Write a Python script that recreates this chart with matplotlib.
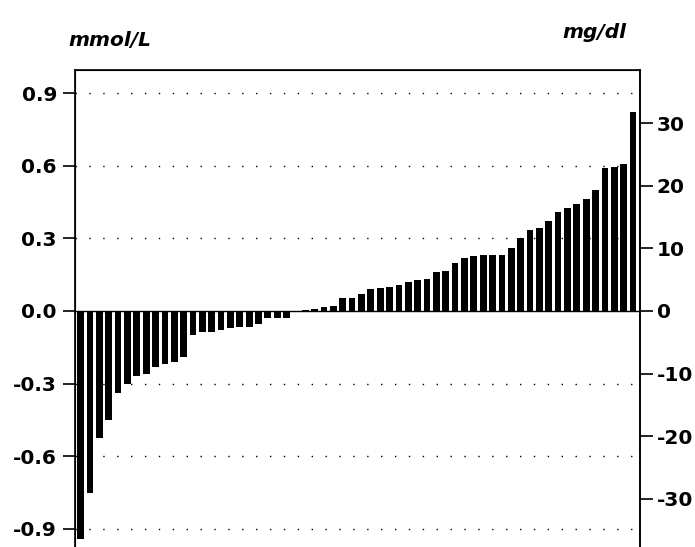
import matplotlib
matplotlib.use("Agg")
import matplotlib.pyplot as plt
import numpy as np

plt.rcParams['font.family'] = ['DejaVu Sans']

# Differences in mmol/L, sorted ascending (60 subjects)
values_mmol = [
    -0.94, -0.75, -0.525, -0.45, -0.34, -0.30, -0.27, -0.26, -0.23, -0.22,
    -0.21, -0.19, -0.10, -0.087, -0.085, -0.08, -0.072, -0.068, -0.065, -0.055,
    -0.03, -0.03, -0.028, -0.005, 0.004, 0.008, 0.016, 0.022, 0.055, 0.055,
    0.07, 0.09, 0.093, 0.10, 0.107, 0.12, 0.128, 0.13, 0.16, 0.165,
    0.196, 0.217, 0.225, 0.232, 0.232, 0.232, 0.261, 0.303, 0.335, 0.344,
    0.373, 0.408, 0.423, 0.44, 0.464, 0.50, 0.59, 0.595, 0.605, 0.823,
]
left_ticks = [-0.9, -0.6, -0.3, 0.0, 0.3, 0.6, 0.9]
left_tick_labels = ["-0.9", "-0.6", "-0.3", "0.0", "0.3", "0.6", "0.9"]
right_ticks = [-30, -20, -10, 0, 10, 20, 30]
right_tick_labels = ["-30", "-20", "-10", "0", "10", "20", "30"]
grid_levels = [-0.9, -0.6, -0.3, 0.3, 0.6, 0.9]
MMOL_TO_MGDL = 38.67

W, H = 695, 547
fig = plt.figure(figsize=(W / 100, H / 100), dpi=100)
ax = fig.add_axes([75 / W, 0.0, 565 / W, (H - 70) / H])

x = np.arange(1, len(values_mmol) + 1)
ax.bar(x, values_mmol, width=0.72, color='black', zorder=3)

ylo, yhi = -0.975, 0.995
ax.set_ylim(ylo, yhi)
ax.set_xlim(0.4, len(values_mmol) + 0.75)

for g in grid_levels:
    ax.axhline(g, color='black', linestyle=(0, (1, 9)), linewidth=1.0, zorder=1)
ax.axhline(0, color='black', linewidth=1.0, zorder=4)

ax.set_yticks(left_ticks)
ax.set_yticklabels(left_tick_labels, fontsize=14.5, fontweight='bold')
ax.set_xticks([])
ax.tick_params(axis='y', direction='out', length=9, width=1.2, pad=4)
ax.spines['bottom'].set_visible(False)
for s in ['left', 'right', 'top']:
    ax.spines[s].set_linewidth(1.2)

ax2 = ax.twinx()
ax2.set_ylim(ylo * MMOL_TO_MGDL, yhi * MMOL_TO_MGDL)
ax2.set_yticks(right_ticks)
ax2.set_yticklabels(right_tick_labels, fontsize=14.5, fontweight='bold')
ax2.tick_params(axis='y', direction='out', length=9, width=1.2, pad=3)
ax2.spines['bottom'].set_visible(False)
ax2.spines['right'].set_linewidth(1.2)

fig.text(68 / W, 1 - 40 / H, "mmol/L", fontsize=14.5, fontweight='bold',
         fontstyle='italic', ha='left', va='center')
fig.text(626 / W, 1 - 33 / H, "mg/dl", fontsize=14.5, fontweight='bold',
         fontstyle='italic', ha='right', va='center')

fig.savefig("out.png", dpi=100)
